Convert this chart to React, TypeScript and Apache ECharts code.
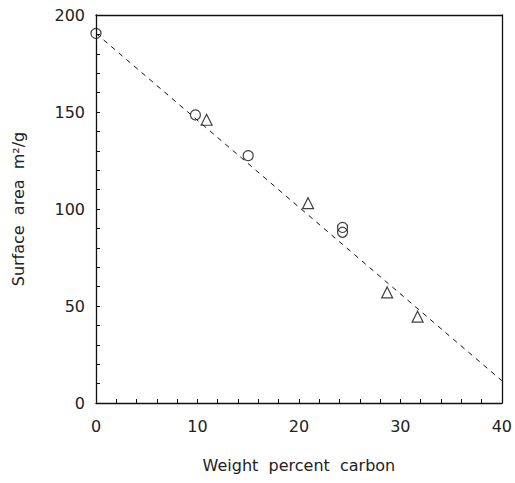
import React, { useEffect, useRef } from "react";
import * as echarts from "echarts";

const circlePoints: [number, number][] = [
  [0, 190.5],
  [9.8, 148.5],
  [15.0, 127.5],
  [24.3, 90.5],
  [24.3, 88],
];
const trianglePoints: [number, number][] = [
  [10.9, 146],
  [20.9, 103],
  [28.7, 57],
  [31.7, 44.5],
];
const fitLine: [number, number][] = [
  [0, 190.5],
  [40, 11.5],
];
const xTicks = [0, 10, 20, 30, 40];
const yTicks = [0, 50, 100, 150, 200];

const FONT = "'DejaVu Sans', Verdana, sans-serif";

export default function App() {
  const ref = useRef<HTMLDivElement>(null);
  useEffect(() => {
    document.body.style.margin = "0";
    const chart = echarts.init(ref.current!, null, { renderer: "svg" });
    const axisCommon = {
      axisLine: { show: true, onZero: false, lineStyle: { color: "#111", width: 1.3 } },
      axisTick: { show: true, inside: true, length: 4, lineStyle: { color: "#111" } },
      minorTick: { show: true, splitNumber: 5, length: 4, lineStyle: { color: "#111" } },
      splitLine: { show: false },
      axisLabel: { color: "#222", fontSize: 16, fontFamily: FONT },
      nameTextStyle: { color: "#222", fontSize: 16, fontFamily: FONT },
    };
    chart.setOption({
      animation: false,
      backgroundColor: "#fff",
      grid: { left: 96, right: 13, top: 15, bottom: 80, show: false },
      xAxis: [
        {
          ...axisCommon,
          axisLabel: { ...axisCommon.axisLabel, margin: 15 },
          type: "value",
          min: xTicks[0],
          max: xTicks[xTicks.length - 1],
          interval: 10,
          name: "Weight  percent  carbon",
          nameLocation: "middle",
          nameGap: 54,
        },
        {
          type: "value",
          position: "top",
          min: 0,
          max: 40,
          axisLine: { show: true, onZero: false, lineStyle: { color: "#111", width: 1.3 } },
          axisTick: { show: false },
          axisLabel: { show: false },
          splitLine: { show: false },
        },
      ],
      yAxis: [
        {
          ...axisCommon,
          axisLabel: { ...axisCommon.axisLabel, margin: 11 },
          type: "value",
          min: yTicks[0],
          max: yTicks[yTicks.length - 1],
          interval: 50,
          name: "Surface  area  m²/g",
          nameLocation: "middle",
          nameGap: 70,
        },
        {
          type: "value",
          position: "right",
          min: 0,
          max: 200,
          axisLine: { show: true, onZero: false, lineStyle: { color: "#111", width: 1.3 } },
          axisTick: { show: false },
          axisLabel: { show: false },
          splitLine: { show: false },
        },
      ],
      series: [
        {
          type: "line",
          data: fitLine,
          symbol: "none",
          lineStyle: { color: "#111", width: 1, type: [5, 5] },
          silent: true,
        },
        {
          type: "scatter",
          data: circlePoints,
          symbol: "circle",
          symbolSize: 10,
          itemStyle: { color: "rgba(255,255,255,0)", borderColor: "#111", borderWidth: 1.2 },
        },
        {
          type: "scatter",
          data: trianglePoints,
          symbol: "triangle",
          symbolSize: 11,
          itemStyle: { color: "rgba(255,255,255,0)", borderColor: "#111", borderWidth: 1.2 },
        },
      ],
    });
    return () => chart.dispose();
  }, []);
  return <div ref={ref} style={{ width: 515, height: 483 }} />;
}
